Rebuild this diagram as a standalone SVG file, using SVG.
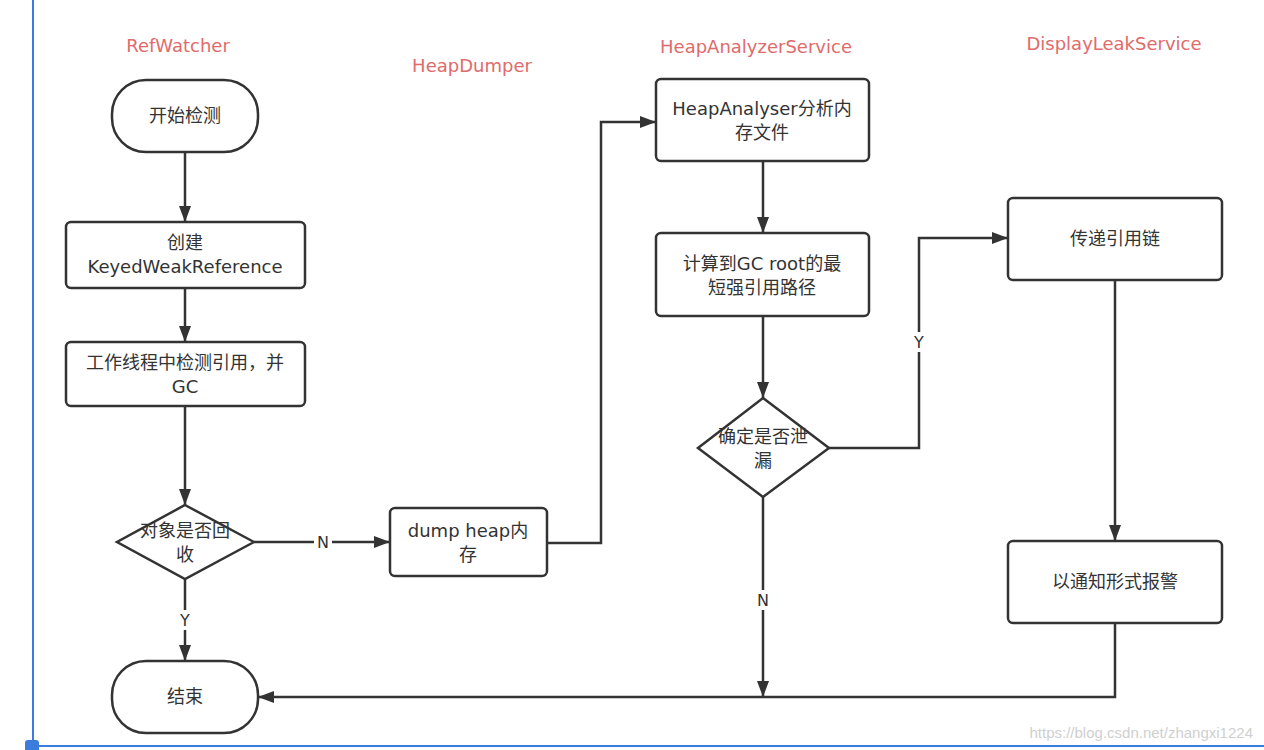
<svg xmlns="http://www.w3.org/2000/svg" width="1264" height="750" viewBox="0 0 1264 750">
<style>
.title{font-family:"DejaVu Sans","Noto Sans CJK SC",sans-serif;font-size:18px;fill:#e06b6b;text-anchor:middle}
.node{fill:#fff;stroke:#333;stroke-width:2.5}
.t{font-family:"DejaVu Sans","Noto Sans CJK SC",sans-serif;font-size:18px;fill:#333;text-anchor:middle}
.lbl{font-family:"DejaVu Sans","Noto Sans CJK SC",sans-serif;font-size:16px;fill:#333;text-anchor:middle}
.c{fill:none;stroke:#333;stroke-width:2.5}
</style>
<defs>
<marker id="ah" viewBox="0 0 16 12" refX="16" refY="6" markerWidth="16" markerHeight="12" markerUnits="userSpaceOnUse" orient="auto">
<path d="M0,0 L16,6 L0,12 Z" fill="#333"/>
</marker>
</defs>
<rect width="1264" height="750" fill="#fff"/>
<g id="frame">
<line x1="33" y1="0" x2="33" y2="742" stroke="#3b7ddd" stroke-width="2"/>
<line x1="38" y1="746" x2="1264" y2="746" stroke="#3b7ddd" stroke-width="2"/>
<rect x="25" y="740" width="14" height="12" rx="3" fill="#3b7ddd"/>
</g>
<g id="titles">
<text class="title" x="178" y="52">RefWatcher</text>
<text class="title" x="472" y="72">HeapDumper</text>
<text class="title" x="756" y="53">HeapAnalyzerService</text>
<text class="title" x="1114" y="50">DisplayLeakService</text>
</g>
<g id="connectors">
<path class="c" d="M185,152 V222" marker-end="url(#ah)"/>
<path class="c" d="M185,288 V342" marker-end="url(#ah)"/>
<path class="c" d="M185,406 V505" marker-end="url(#ah)"/>
<path class="c" d="M254,542 H390" marker-end="url(#ah)"/>
<path class="c" d="M185,579 V661" marker-end="url(#ah)"/>
<path class="c" d="M547,543 H601 V122 H656" marker-end="url(#ah)"/>
<path class="c" d="M763,161 V233" marker-end="url(#ah)"/>
<path class="c" d="M763,316 V398" marker-end="url(#ah)"/>
<path class="c" d="M829,448 H919 V238 H1008" marker-end="url(#ah)"/>
<path class="c" d="M763,497 V697" marker-end="url(#ah)"/>
<path class="c" d="M1115,280 V541" marker-end="url(#ah)"/>
<path class="c" d="M1115,623 V697 H258" marker-end="url(#ah)"/>
<rect x="314" y="532" width="18" height="20" fill="#fff"/>
<text class="lbl" x="323" y="548">N</text>
<rect x="176" y="610" width="18" height="20" fill="#fff"/>
<text class="lbl" x="185" y="626">Y</text>
<rect x="910" y="332" width="18" height="20" fill="#fff"/>
<text class="lbl" x="919" y="348">Y</text>
<rect x="754" y="590" width="18" height="20" fill="#fff"/>
<text class="lbl" x="763" y="606">N</text>
</g>
<g id="start">
<rect class="node" x="112" y="80" width="146" height="72" rx="34"/>
<text class="t" x="185" y="122">开始检测</text>
</g>
<g id="create">
<rect class="node" x="66" y="222" width="239" height="66" rx="5"/>
<text class="t" x="185" y="249">创建</text>
<text class="t" x="185" y="273">KeyedWeakReference</text>
</g>
<g id="check">
<rect class="node" x="66" y="342" width="239" height="64" rx="5"/>
<text class="t" x="185" y="369">工作线程中检测引用，并</text>
<text class="t" x="185" y="393">GC</text>
</g>
<g id="recycled">
<path class="node" d="M185,505 L254,542 L185,579 L117,542 Z"/>
<text class="t" x="185" y="537">对象是否回</text>
<text class="t" x="185" y="561">收</text>
</g>
<g id="end">
<rect class="node" x="112" y="661" width="146" height="72" rx="34"/>
<text class="t" x="185" y="703">结束</text>
</g>
<g id="dump">
<rect class="node" x="390" y="508" width="157" height="68" rx="5"/>
<text class="t" x="468" y="537">dump heap内</text>
<text class="t" x="468" y="561">存</text>
</g>
<g id="analyse">
<rect class="node" x="656" y="79" width="213" height="82" rx="5"/>
<text class="t" x="762" y="115">HeapAnalyser分析内</text>
<text class="t" x="762" y="139">存文件</text>
</g>
<g id="shortest">
<rect class="node" x="656" y="233" width="213" height="83" rx="5"/>
<text class="t" x="762" y="270">计算到GC root的最</text>
<text class="t" x="762" y="294">短强引用路径</text>
</g>
<g id="leak">
<path class="node" d="M763,398 L829,448 L763,497 L698,448 Z"/>
<text class="t" x="763" y="443">确定是否泄</text>
<text class="t" x="763" y="467">漏</text>
</g>
<g id="chain">
<rect class="node" x="1008" y="198" width="214" height="82" rx="5"/>
<text class="t" x="1115" y="245">传递引用链</text>
</g>
<g id="notify">
<rect class="node" x="1008" y="541" width="214" height="82" rx="5"/>
<text class="t" x="1115" y="588">以通知形式报警</text>
</g>
<text x="1253" y="738" font-family="Liberation Sans,sans-serif" font-size="15" fill="#d0d0d0" text-anchor="end">https://blog.csdn.net/zhangxi1224</text>
</svg>
